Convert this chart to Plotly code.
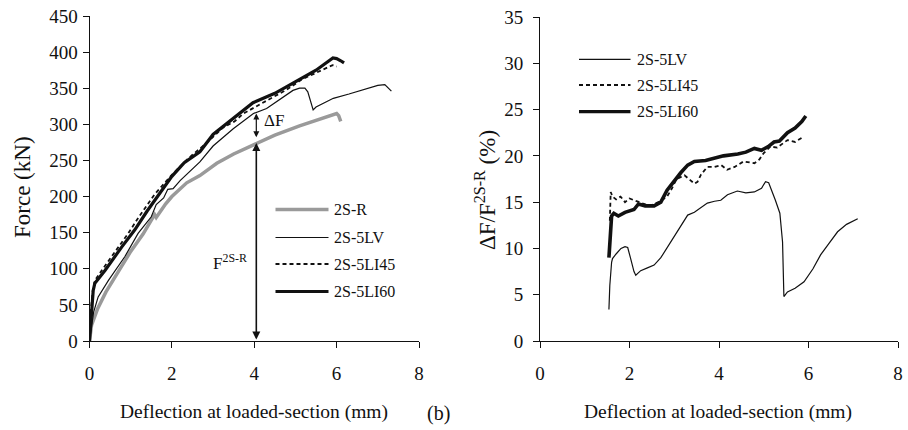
import plotly.graph_objects as go

# ---- Force-deflection curves (left panel) ----
r_x = [0, 0.05, 0.2, 0.4, 0.7, 1.0, 1.3, 1.5, 1.58, 1.62, 1.7, 1.85, 2.0, 2.36, 2.68, 3.09, 3.5, 4.06, 4.5, 5.1, 5.5, 5.92, 6.0, 6.05, 6.1]
r_f = [0, 22, 45, 68, 96, 124, 148, 166, 175, 171, 178, 190, 200, 219, 229, 246, 259, 273, 285, 298, 306, 314, 315, 312, 304]

lv_x = [0, 0.1, 0.21, 0.46, 0.86, 1.18, 1.5, 1.62, 1.8, 1.9, 2.03, 2.2, 2.68, 3.0, 3.49, 3.98, 4.3, 4.94, 5.1, 5.23, 5.3, 5.38, 5.43, 5.5, 5.92, 6.3, 6.73, 7.0, 7.17, 7.25, 7.33]
lv_f = [0, 40, 61, 84, 117, 149, 172, 189, 198, 210, 211, 222, 248, 270, 294, 315, 322, 347, 350, 350, 345, 330, 320, 324, 336, 342, 350, 354, 355, 351, 346]

li45_x = [0, 0.03, 0.08, 0.13, 0.3, 0.7, 0.94, 1.2, 1.58, 2.0, 2.38, 2.84, 3.23, 3.52, 3.74, 4.18, 4.55, 4.79, 5.15, 5.53, 5.9, 6.0]
li45_f = [0, 40, 70, 84, 98, 130, 149, 172, 203, 230, 252, 274, 295, 304, 315, 329, 341, 348, 362, 372, 382, 380]

li60_x = [0, 0.05, 0.09, 0.13, 0.38, 0.78, 1.1, 1.4, 1.71, 2.0, 2.3, 2.68, 3.0, 3.48, 3.97, 4.5, 5.0, 5.5, 5.91, 6.0, 6.1, 6.18]
li60_f = [0, 40, 70, 80, 98, 130, 154, 180, 205, 228, 247, 262, 286, 308, 330, 343, 359, 375, 392, 391, 388, 385]

# ---- Relative increase of load vs. reference beam (right panel) ----
dlv_x = [1.54, 1.56, 1.6, 1.62, 1.7, 1.81, 1.9, 1.96, 2.02, 2.1, 2.14, 2.25, 2.4, 2.55, 2.7, 2.92, 3.1, 3.3, 3.45, 3.74, 3.9, 4.04, 4.19, 4.41, 4.6, 4.79, 4.95, 5.04, 5.11, 5.2, 5.26, 5.36, 5.42, 5.45, 5.53, 5.7, 5.9, 6.1, 6.27, 6.45, 6.65, 6.85, 7.0, 7.1]
dlv_v = [3.4, 6.0, 8.5, 8.9, 9.4, 10.0, 10.2, 10.1, 9.0, 7.5, 7.1, 7.6, 7.9, 8.2, 9.0, 10.7, 12.0, 13.6, 13.9, 14.9, 15.1, 15.2, 15.8, 16.2, 16.0, 16.1, 16.5, 17.2, 17.1, 16.0, 15.2, 13.8, 10.7, 4.8, 5.3, 5.7, 6.4, 7.8, 9.3, 10.5, 11.8, 12.6, 13.0, 13.2]

d45_x = [1.56, 1.58, 1.62, 1.7, 1.8, 1.9, 2.0, 2.1, 2.25, 2.38, 2.5, 2.65, 2.84, 2.95, 3.05, 3.23, 3.35, 3.45, 3.52, 3.6, 3.74, 3.9, 4.05, 4.18, 4.35, 4.55, 4.79, 4.9, 5.0, 5.15, 5.3, 5.53, 5.7, 5.8, 5.9]
d45_v = [13.0, 16.1, 15.6, 15.3, 15.6, 15.0, 15.4, 15.2, 14.9, 14.7, 14.7, 15.0, 15.6, 16.5, 17.5, 17.9, 17.4, 17.0, 17.2, 18.0, 18.8, 18.8, 19.0, 18.5, 18.8, 19.4, 19.2, 19.6, 20.3, 21.0, 20.9, 21.7, 21.5, 21.8, 22.1]

d60_x = [1.54, 1.56, 1.58, 1.6, 1.65, 1.75, 1.9, 2.0, 2.1, 2.2, 2.35, 2.55, 2.7, 2.84, 3.0, 3.15, 3.3, 3.45, 3.7, 3.9, 4.1, 4.42, 4.6, 4.79, 4.95, 5.1, 5.23, 5.35, 5.53, 5.7, 5.85, 5.94]
d60_v = [9.0, 11.0, 12.8, 13.5, 13.8, 13.5, 13.9, 14.1, 14.2, 14.8, 14.6, 14.6, 15.0, 16.3, 17.3, 18.2, 19.0, 19.4, 19.5, 19.8, 20.0, 20.2, 20.4, 20.8, 20.6, 21.0, 21.5, 21.6, 22.5, 23.0, 23.7, 24.3]

# annotated reading at 4 mm
ref_x = 4.05
ref_f = 274      # F of 2S-R
lv_at_ref = 317  # F of 2S-5LV

left_names = ["2S-R", "2S-5LV", "2S-5LI45", "2S-5LI60"]
right_names = ["2S-5LV", "2S-5LI45", "2S-5LI60"]

FONT = "Liberation Serif, Times New Roman, serif"
INK = "#111111"

styles = {
    "2S-R": dict(color="#9a9a9a", width=3.5, dash="solid"),
    "2S-5LV": dict(color=INK, width=1.2, dash="solid"),
    "2S-5LI45": dict(color=INK, width=1.8, dash="4px,3px"),
    "2S-5LI60": dict(color=INK, width=3.2, dash="solid"),
}

fig = go.Figure()

left_series = {"2S-R": (r_x, r_f), "2S-5LV": (lv_x, lv_f), "2S-5LI60": (li60_x, li60_f), "2S-5LI45": (li45_x, li45_f)}
for name, (xs, ys) in left_series.items():
    fig.add_trace(go.Scatter(x=xs, y=ys, mode="lines", name=name, line=styles[name],
                             xaxis="x", yaxis="y", showlegend=False))

right_series = {"2S-5LV": (dlv_x, dlv_v), "2S-5LI45": (d45_x, d45_v), "2S-5LI60": (d60_x, d60_v)}
for name, (xs, ys) in right_series.items():
    st = dict(styles[name])
    if name == "2S-5LI60":
        st["width"] = 3.6
    fig.add_trace(go.Scatter(x=xs, y=ys, mode="lines", name=name, line=st,
                             xaxis="x2", yaxis="y2", showlegend=False))

W, H = 908, 430

def px(xp):
    return xp / W

def py(yp):
    return 1 - yp / H

axis_common = dict(showline=True, linecolor=INK, linewidth=1, ticks="outside", ticklen=6,
                   tickcolor=INK, showgrid=False, zeroline=False, mirror=False, automargin=False,
                   tickfont=dict(family=FONT, size=19, color=INK))

fig.update_layout(
    template="none",
    width=W, height=H, margin=dict(l=0, r=0, t=0, b=0, pad=0),
    paper_bgcolor="white", plot_bgcolor="white",
    font=dict(family=FONT, color=INK, size=16),
    xaxis=dict(domain=[px(89.5), px(419)], range=[0, 8], dtick=2, anchor="y",
               ticklabelstandoff=9, **axis_common),
    yaxis=dict(domain=[py(341), py(16)], range=[0, 450], dtick=50, anchor="x",
               ticklabelstandoff=1, **axis_common),
    xaxis2=dict(domain=[px(540), px(898)], range=[0, 8], dtick=2, anchor="y2",
                ticklabelstandoff=9, **axis_common),
    yaxis2=dict(domain=[py(341), py(17)], range=[0, 35], dtick=5, anchor="x2",
                ticklabelstandoff=6, **axis_common),
)

ann = []

def paper_text(text, xp, yp, size, angle=0, xanchor="center"):
    ann.append(dict(text=text, x=px(xp), y=py(yp), xref="paper", yref="paper", textangle=angle,
                    xanchor=xanchor, yanchor="middle", showarrow=False,
                    font=dict(family=FONT, size=size, color=INK)))

# axis titles
paper_text("Force (kN)", 22, 187, 23, angle=-90)
paper_text("ΔF/F<sup>2S-R</sup> (%)", 485, 190, 23, angle=-90)
paper_text("Deflection at loaded-section (mm)", 254, 412, 19.5)
paper_text("Deflection at loaded-section (mm)", 718, 412, 19.5)
paper_text("(b)", 438, 413, 20)

# F^{2S-R} double arrow and ΔF double arrow
ann.append(dict(x=ref_x, y=ref_f, ax=ref_x, ay=0, xref="x", yref="y", axref="x", ayref="y",
                text="", showarrow=True, arrowhead=2, startarrowhead=2, arrowside="end+start",
                arrowsize=1, arrowwidth=1.6, arrowcolor=INK))
ann.append(dict(x=ref_x, y=ref_f + 8, ax=ref_x, ay=lv_at_ref, xref="x", yref="y", axref="x", ayref="y",
                text="", showarrow=True, arrowhead=2, startarrowhead=2, arrowside="end+start",
                arrowsize=1, arrowwidth=1.2, arrowcolor=INK))
ann.append(dict(text="ΔF", x=4.47, y=306, xref="x", yref="y", showarrow=False,
                xanchor="center", yanchor="middle", font=dict(family=FONT, size=17, color=INK)))
ann.append(dict(text="F<sup>2S-R</sup>", x=3.41, y=110, xref="x", yref="y", showarrow=False,
                xanchor="center", yanchor="middle", font=dict(family=FONT, size=17, color=INK)))

shapes = []

def legend_block(names, x0, x1, xt, ys, size):
    for name, yy in zip(names, ys):
        st = styles[name]
        shapes.append(dict(type="line", xref="paper", yref="paper", x0=px(x0), x1=px(x1), y0=py(yy), y1=py(yy),
                           line=dict(color=st["color"], width=st["width"], dash=st["dash"])))
        paper_text(name, xt, yy, size, xanchor="left")

legend_block(left_names, 275.5, 328.5, 332, [209.5, 237.5, 264, 291.5], 16)
legend_block(right_names, 579, 630.5, 635, [59.3, 85, 111.7], 16)

fig.update_layout(annotations=ann, shapes=shapes)

fig.write_html("out.html")
